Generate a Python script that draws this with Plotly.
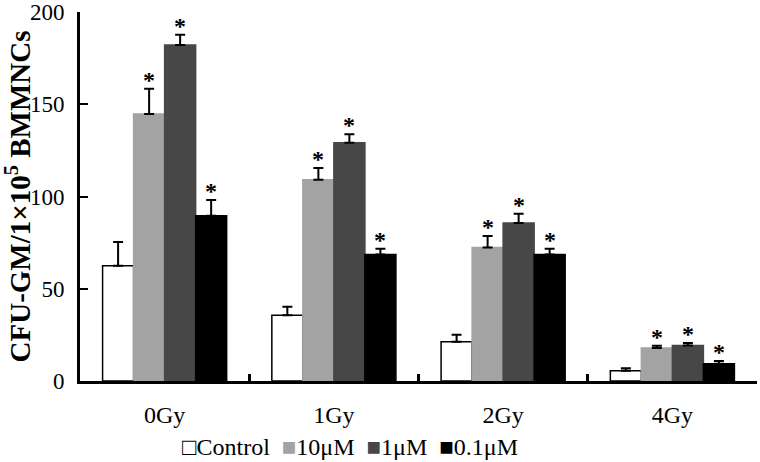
import plotly.graph_objects as go

categories = ["0Gy", "1Gy", "2Gy", "4Gy"]
series_names = ["Control", "10μM", "1μM", "0.1μM"]
control = [62.5, 35.6, 21.3, 5.6]
m10 = [144.7, 109.1, 72.4, 17.9]
m1 = [182.1, 129.2, 85.6, 19.3]
m01 = [89.6, 68.5, 68.5, 9.4]
control_err = [12.8, 4.7, 3.8, 1.3]
m10_err = [13.7, 6.3, 6.2, 1.2]
m1_err = [5.6, 4.5, 5.1, 1.3]
m01_err = [8.5, 3.2, 3.2, 1.4]
significant = [
    [False, False, False, False],
    [True, True, True, True],
    [True, True, True, True],
    [True, True, True, True],
]
y_ticks = [0, 50, 100, 150, 200]

values = [control, m10, m1, m01]
errors = [control_err, m10_err, m1_err, m01_err]
fill_colors = ["#ffffff", "#a3a3a3", "#474747", "#000000"]
line_colors = ["#000000", "#a3a3a3", "#474747", "#000000"]

FONT = "Liberation Serif, Times New Roman, serif"

fig = go.Figure()
for name, vals, errs, fc, lc in zip(series_names, values, errors, fill_colors, line_colors):
    fig.add_trace(go.Bar(
        x=categories, y=vals, name=name,
        marker=dict(color=fc, line=dict(color=lc, width=1.5)),
        error_y=dict(type="data", array=errs, arrayminus=[0] * len(errs),
                     symmetric=False, color="black", thickness=2, width=5),
        showlegend=False,
    ))

n = len(series_names)
bargap = 0.267
bw = (1 - bargap) / n
for si in range(n):
    for ci, cat in enumerate(categories):
        if significant[si][ci]:
            xpos = ci - (1 - bargap) / 2 + bw * (si + 0.5)
            fig.add_annotation(
                x=xpos, y=values[si][ci] + errors[si][ci], xref="x", yref="y",
                text="<b>*</b>", showarrow=False, yanchor="bottom", yshift=-6,
                font=dict(family=FONT, size=24, color="#000000"),
            )

legend_symbols = ["□", "■", "■", "■"]
legend_sym_colors = ["#000000", "#a3a3a3", "#474747", "#000000"]
legend_text = "&nbsp;&nbsp;".join(
    f'<span style="color:{c}">{s}</span>{nm}'
    for s, c, nm in zip(legend_symbols, legend_sym_colors, series_names)
)
fig.add_annotation(
    x=0.148, y=-0.178, xref="paper", yref="paper", xanchor="left", yanchor="middle",
    text=legend_text, showarrow=False,
    font=dict(family=FONT, size=24, color="black"),
)

fig.update_layout(
    width=760, height=462,
    margin=dict(l=80, r=3, t=12, b=81, autoexpand=False),
    paper_bgcolor="white", plot_bgcolor="white",
    barmode="group", bargap=bargap, bargroupgap=0,
    font=dict(family=FONT, size=23, color="black"),
)
fig.update_xaxes(
    type="category", showline=True, linecolor="black", linewidth=3,
    ticks="inside", tickson="boundaries", ticklen=7, tickwidth=3, tickcolor="black",
    showgrid=False, zeroline=False, ticklabelstandoff=10, automargin=False,
    tickfont=dict(family=FONT, size=24),
)
fig.update_yaxes(
    range=[0, 200], tickvals=y_ticks, showline=True, linecolor="black", linewidth=3,
    ticks="inside", ticklen=8, tickwidth=2, tickcolor="black",
    showgrid=False, zeroline=False, ticklabelstandoff=8, automargin=False,
    tickfont=dict(family=FONT, size=23),
    title=dict(text="<b>CFU-GM/1×10<sup>5</sup> BMMNCs</b>", standoff=2,
               font=dict(family=FONT, size=29)),
)

fig.write_html("out.html", config={"displayModeBar": False},
               post_script="document.body.style.margin='0';")
